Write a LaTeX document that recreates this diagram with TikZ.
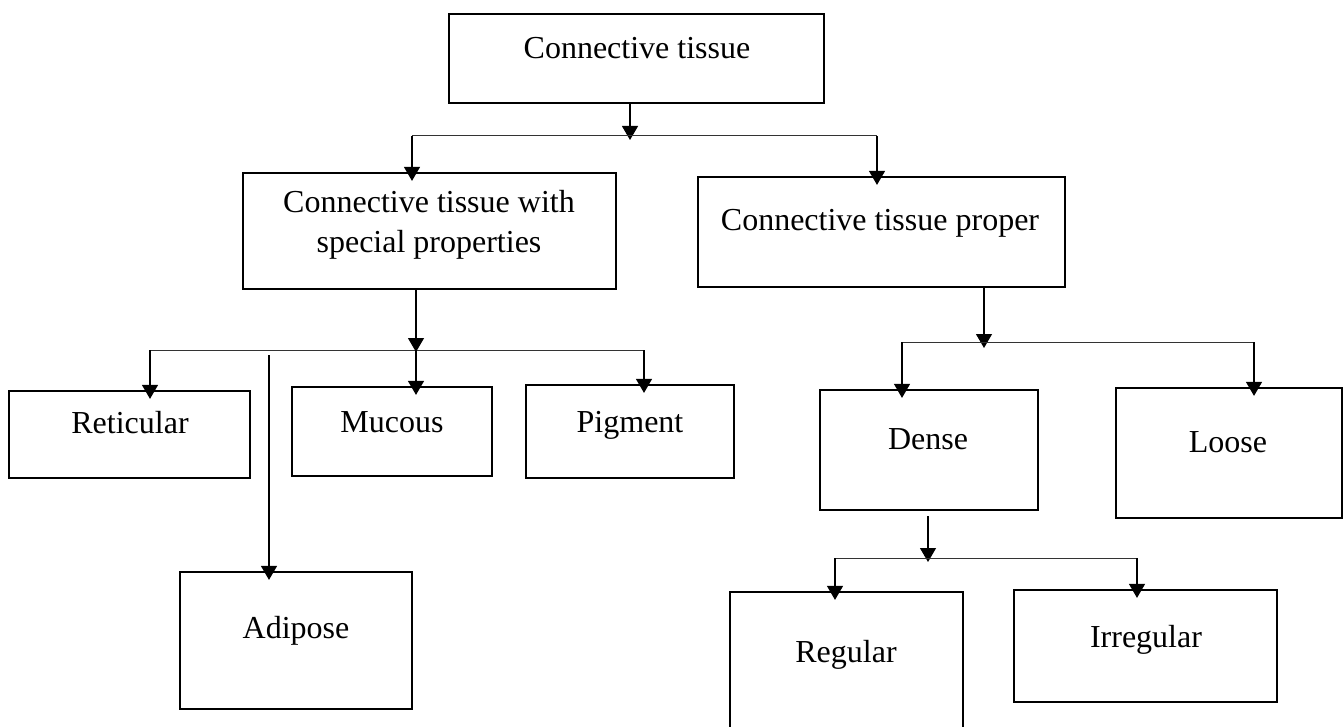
\documentclass[tikz,border=0pt]{standalone}
\usepackage{fontspec}
\setmainfont{Liberation Serif}
\usetikzlibrary{arrows.meta}

\begin{document}
\begin{tikzpicture}[x=0.5pt,y=-0.5pt,
    box/.style={draw,line width=1.1pt,inner sep=0pt},
    txt/.style={font=\fontsize{16}{20}\selectfont,align=center,inner sep=0pt,anchor=base},
    arr/.style={line width=0.6pt,-{Triangle[width=8pt,length=7pt]}},
    into/.style={arr,shorten >=-4.5pt},
    bar/.style={line width=0.5pt,black!80}]
    \useasboundingbox (0,0) rectangle (1343,727);

    % boxes
    \node[box,minimum width=187.5pt,minimum height=44.5pt] (ct) at (636.5,58.5) {};
    \node[box,minimum width=186.5pt,minimum height=58pt] (sp) at (429.5,231) {};
    \node[box,minimum width=183.5pt,minimum height=55pt] (pr) at (881.5,232) {};
    \node[box,minimum width=120.5pt,minimum height=43.5pt] (re) at (129.5,434.5) {};
    \node[box,minimum width=100pt,minimum height=44.5pt] (mu) at (392,431.5) {};
    \node[box,minimum width=104pt,minimum height=46.5pt] (pi) at (630,431.5) {};
    \node[box,minimum width=116pt,minimum height=68.5pt] (ad) at (296,640.5) {};
    \node[box,minimum width=109pt,minimum height=60pt] (de) at (929,450) {};
    \node[box,minimum width=113pt,minimum height=65pt] (lo) at (1229,453) {};
    \node[box,minimum width=116.5pt,minimum height=80pt] (rg) at (846.5,672) {};
    \node[box,minimum width=131.5pt,minimum height=56pt] (ir) at (1145.5,646) {};

    % labels
    \node[txt] (ct-t) at (637,59) {Connective tissue};
    \node[txt,anchor=center] (sp-t) at (429,225) {Connective tissue with\\special properties};
    \node[txt] (pr-t) at (880,231) {Connective tissue proper};
    \node[txt] (re-t) at (130,433) {Reticular};
    \node[txt] (mu-t) at (392,432) {Mucous};
    \node[txt] (pi-t) at (630,432) {Pigment};
    \node[txt] (ad-t) at (296,638) {Adipose};
    \node[txt] (de-t) at (928,449) {Dense};
    \node[txt] (lo-t) at (1228,452) {Loose};
    \node[txt] (rg-t) at (846,662) {Regular};
    \node[txt] (ir-t) at (1146,647) {Irregular};

    % branch points
    \coordinate (b1l) at (412,136);
    \coordinate (b1r) at (877,136);
    \coordinate (j1) at (630,140);
    \coordinate (b2l) at (150,350);
    \coordinate (b2r) at (644,350);
    \coordinate (j2) at (416,352);
    \coordinate (a2) at (269,355);
    \coordinate (b3l) at (902,342);
    \coordinate (b3r) at (1254,342);
    \coordinate (j3) at (984,348);
    \coordinate (b4l) at (835,558);
    \coordinate (b4r) at (1137,558);
    \coordinate (j4) at (928,562);

    % top level
    \draw[arr] (ct.south -| j1) -- (j1);
    \draw[bar] (b1l) -- (b1r);
    \draw[into] (b1l) -- (b1l |- sp.north);
    \draw[into] (b1r) -- (b1r |- pr.north);

    % special properties
    \draw[arr] (sp.south -| j2) -- (j2);
    \draw[bar] (b2l) -- (b2r);
    \draw[into] (b2l) -- (b2l |- re.north);
    \draw[into] (b2l -| j2) -- (j2 |- mu.north);
    \draw[into] (b2r) -- (b2r |- pi.north);
    \draw[into] (a2) -- (a2 |- ad.north);

    % proper
    \draw[arr] (pr.south -| j3) -- (j3);
    \draw[bar] (b3l) -- (b3r);
    \draw[into] (b3l) -- (b3l |- de.north);
    \draw[into] (b3r) -- (b3r |- lo.north);

    % dense
    \draw[arr] ([yshift=-2.5pt]de.south -| j4) -- (j4);
    \draw[bar] (b4l) -- (b4r);
    \draw[into] (b4l) -- (b4l |- rg.north);
    \draw[into] (b4r) -- (b4r |- ir.north);
\end{tikzpicture}
\end{document}
